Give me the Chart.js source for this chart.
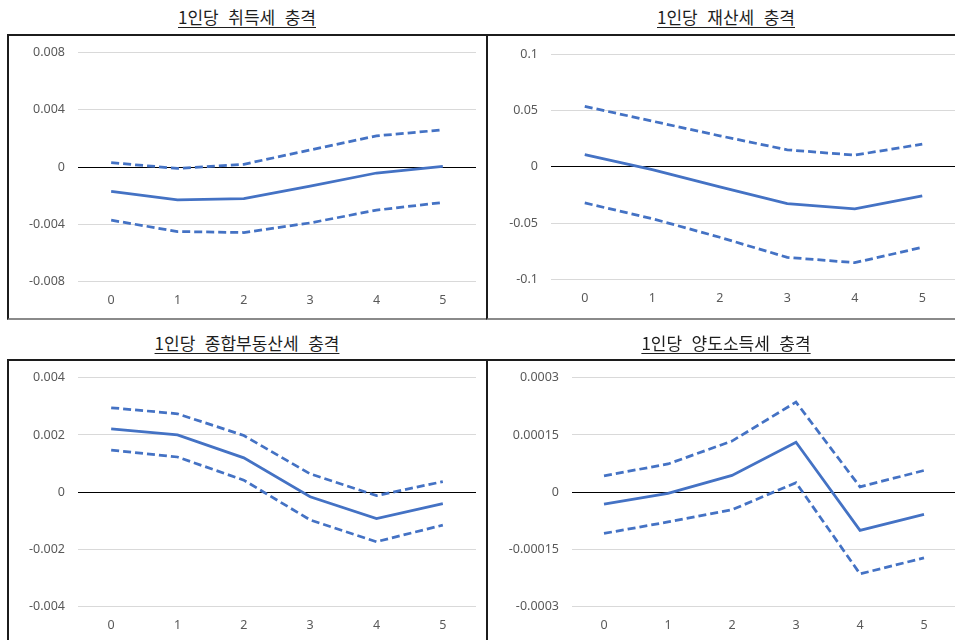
<!DOCTYPE html>
<html lang="ko">
<head>
<meta charset="utf-8">
<script src="https://cdn.jsdelivr.net/npm/chart.js@4.4.1/dist/chart.umd.min.js"></script>
<style>
  html, body { margin: 0; padding: 0; background: #fff; width: 955px; height: 640px; overflow: hidden; }
  .title {
    position: absolute; width: 480px; text-align: center;
    font-family: "Noto Sans CJK KR", sans-serif; font-size: 17px; color: #1e1e1e;
    text-decoration: underline; text-underline-offset: 3px; text-decoration-thickness: 1px;
    white-space: pre; line-height: 20px;
  }
  .box {
    position: absolute; box-sizing: border-box;
    border-top: 2px solid #1c1c1c; border-left: 2px solid #1c1c1c; border-bottom: 2px solid #8a8a8a;
  }
  canvas { position: absolute; }
</style>
</head>
<body>
<script>
// Impulse-response horizons (periods after the shock)
const horizons = ['0', '1', '2', '3', '4', '5'];

// 1인당 취득세 충격
const acqMid = [-0.0017, -0.0023, -0.0022, -0.00133, -0.00042, 0.00005];
const acqUp  = [0.0003, -0.0001, 0.00019, 0.00119, 0.00217, 0.00259];
const acqLo  = [-0.00371, -0.0045, -0.00457, -0.0039, -0.00301, -0.00247];
const acqTicks = [-0.008, -0.004, 0, 0.004, 0.008];

// 1인당 재산세 충격
const propMid = [0.0109, -0.0024, -0.0178, -0.0325, -0.0373, -0.0257];
const propUp  = [0.0536, 0.0405, 0.0275, 0.0151, 0.0104, 0.0201];
const propLo  = [-0.032, -0.0459, -0.0624, -0.0802, -0.0849, -0.0713];
const propTicks = [-0.1, -0.05, 0, 0.05, 0.1];

// 1인당 종합부동산세 충격
const compMid = [0.00221, 0.0020, 0.0012, -0.00016, -0.00092, -0.0004];
const compUp  = [0.00295, 0.00274, 0.00198, 0.00064, -0.00012, 0.00037];
const compLo  = [0.00147, 0.00123, 0.00042, -0.00097, -0.00173, -0.00115];
const compTicks = [-0.004, -0.002, 0, 0.002, 0.004];

// 1인당 양도소득세 충격
const capMid = [-0.000031, -0.000003, 0.000044, 0.000131, -0.0001, -0.000058];
const capUp  = [0.000043, 0.000074, 0.000134, 0.000236, 0.000014, 0.000057];
const capLo  = [-0.000108, -0.000078, -0.000046, 0.000025, -0.000214, -0.000172];
const capTicks = [-0.0003, -0.00015, 0, 0.00015, 0.0003];

const titles = ['1인당  취득세  충격', '1인당  재산세  충격', '1인당  종합부동산세  충격', '1인당  양도소득세  충격'];

const BLUE = '#4472C4';

const panels = [
  { title: titles[0], mid: acqMid, up: acqUp, lo: acqLo, ticks: acqTicks,
    box: [7, 34, 481, 286], titleY: 7, axisW: 69, padTop: 16.3, padRight: 12, xH: 36.3 },
  { title: titles[1], mid: propMid, up: propUp, lo: propLo, ticks: propTicks,
    box: [486, 34, 480, 286], titleY: 7, axisW: 63, padTop: 18, padRight: 10, xH: 38.3 },
  { title: titles[2], mid: compMid, up: compUp, lo: compLo, ticks: compTicks,
    box: [7, 359, 481, 290], titleY: 333, axisW: 69, padTop: 16.7, padRight: 12, xH: 33.3 },
  { title: titles[3], mid: capMid, up: capUp, lo: capLo, ticks: capTicks,
    box: [486, 359, 480, 290], titleY: 333, axisW: 84, padTop: 16.7, padRight: 10, xH: 33.3 }
];

function fmt(v) {
  return String(parseFloat(Number(v).toPrecision(6)));
}

panels.forEach((p) => {
  const [bx, by, bw, bh] = p.box;

  const t = document.createElement('div');
  t.className = 'title';
  t.textContent = p.title;
  t.style.left = (bx) + 'px';
  t.style.top = p.titleY + 'px';
  document.body.appendChild(t);

  const b = document.createElement('div');
  b.className = 'box';
  b.style.left = bx + 'px';
  b.style.top = by + 'px';
  b.style.width = bw + 'px';
  b.style.height = bh + 'px';
  document.body.appendChild(b);

  const cv = document.createElement('canvas');
  const cw = bw - 2, ch = (by > 300 ? 640 - by - 2 : bh - 4);
  cv.width = cw; cv.height = ch;
  cv.style.left = (bx + 2) + 'px';
  cv.style.top = (by + 2) + 'px';
  cv.style.width = cw + 'px';
  cv.style.height = ch + 'px';
  document.body.appendChild(cv);

  const dashed = (data) => ({
    data, borderColor: BLUE, borderWidth: 2.75, borderDash: [8, 4], borderCapStyle: 'butt',
    pointRadius: 0, tension: 0, fill: false
  });

  new Chart(cv.getContext('2d'), {
    type: 'line',
    data: {
      labels: horizons,
      datasets: [
        { data: p.mid, borderColor: BLUE, borderWidth: 2.75, pointRadius: 0, tension: 0, fill: false },
        dashed(p.up),
        dashed(p.lo)
      ]
    },
    options: {
      responsive: false,
      animation: false,
      events: [],
      layout: { padding: { top: p.padTop, right: p.padRight, left: 0, bottom: 0 } },
      plugins: { legend: { display: false }, tooltip: { enabled: false } },
      scales: {
        x: {
          offset: true,
          grid: { display: false, drawTicks: false },
          border: { display: false },
          ticks: { color: '#595959', font: { family: 'Noto Sans', size: 12.5 }, padding: 11 },
          afterFit: (s) => { s.height = p.xH; }
        },
        y: {
          min: p.ticks[0],
          max: p.ticks[p.ticks.length - 1],
          afterBuildTicks: (s) => { s.ticks = p.ticks.map(v => ({ value: v })); },
          grid: {
            drawTicks: false,
            color: (c) => (c.tick && c.tick.value === 0 ? '#000000' : '#d9d9d9'),
            lineWidth: 1
          },
          border: { display: false },
          ticks: {
            color: '#595959', font: { family: 'Noto Sans', size: 12.5 }, padding: 13,
            callback: (v) => fmt(v)
          },
          afterFit: (s) => { s.width = p.axisW; s.paddingTop = 0; s.paddingBottom = 0; }
        }
      }
    }
  });
});
</script>
</body>
</html>
